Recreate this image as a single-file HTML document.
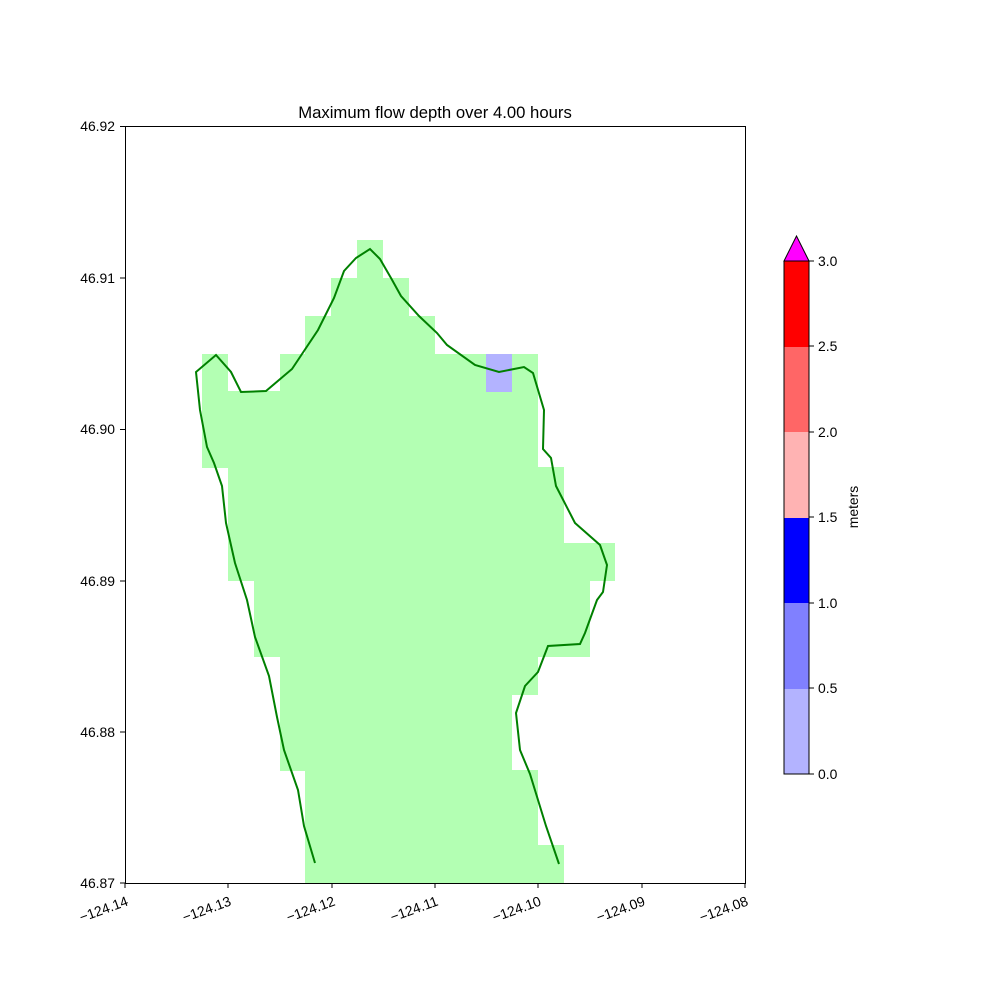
<!DOCTYPE html>
<html><head><style>body{margin:0;background:#fff}svg text{font-family:"Liberation Sans",sans-serif;font-size:13.9px;fill:#000}</style></head><body>
<svg width="1000" height="1000" viewBox="0 0 1000 1000" xmlns="http://www.w3.org/2000/svg">
<g fill="#b3ffb3" shape-rendering="crispEdges">
<rect x="357" y="240" width="26" height="39"/>
<rect x="331" y="278" width="78" height="39"/>
<rect x="305" y="316" width="130" height="39"/>
<rect x="202" y="354" width="26" height="38"/>
<rect x="280" y="354" width="258" height="38"/>
<rect x="202" y="391" width="336" height="77"/>
<rect x="228" y="467" width="336" height="77"/>
<rect x="228" y="543" width="387" height="38"/>
<rect x="254" y="581" width="336" height="76"/>
<rect x="280" y="656" width="258" height="39"/>
<rect x="280" y="694" width="232" height="77"/>
<rect x="305" y="770" width="233" height="76"/>
<rect x="305" y="845" width="259" height="38"/>
<rect x="486" y="354" width="26" height="38" fill="#b3b3ff"/>
</g>
<polyline fill="none" stroke="#008000" stroke-width="2" points="315,863 304,826 298,790 284,750 277,717 269,676 255,637 247,600 235,563 226,523 222,486 214,463 207,447 200,410 196,372 216,355 231,372 241,392 266,391 292,369 318,330 334,298 344,271 356,258 370,249 380,259 391,278 401,296 419,316 437,333 447,345 475,365 499,372 524,367 533,373 544,410 543,449 551,458 556,486 575,523 600,545 607,565 603,592 597,600 585,633 580,644 548,646 538,672 525,686 516,713 520,750 530,774 546,826 559,864"/>
<rect x="125.5" y="126.5" width="620" height="757" fill="none" stroke="#000" stroke-width="1"/>
<text x="435" y="118" text-anchor="middle" style="font-size:16.7px">Maximum flow depth over 4.00 hours</text>
<g stroke="#000">
<line x1="125" y1="883" x2="125" y2="888"/><line x1="228" y1="883" x2="228" y2="888"/><line x1="332" y1="883" x2="332" y2="888"/><line x1="435" y1="883" x2="435" y2="888"/><line x1="538" y1="883" x2="538" y2="888"/><line x1="642" y1="883" x2="642" y2="888"/><line x1="745" y1="883" x2="745" y2="888"/>
<line x1="120" y1="126.5" x2="125" y2="126.5"/><line x1="120" y1="278" x2="125" y2="278"/><line x1="120" y1="429.5" x2="125" y2="429.5"/><line x1="120" y1="581" x2="125" y2="581"/><line x1="120" y1="732" x2="125" y2="732"/><line x1="120" y1="883" x2="125" y2="883"/>
</g>
<g text-anchor="end">
<text x="115" y="131">46.92</text><text x="115" y="283">46.91</text><text x="115" y="434">46.90</text><text x="115" y="586">46.89</text><text x="115" y="737">46.88</text><text x="115" y="888">46.87</text>
</g>
<g text-anchor="end">
<text transform="translate(129,905) rotate(-20)">−124.14</text>
<text transform="translate(232,905) rotate(-20)">−124.13</text>
<text transform="translate(336,905) rotate(-20)">−124.12</text>
<text transform="translate(439,905) rotate(-20)">−124.11</text>
<text transform="translate(542,905) rotate(-20)">−124.10</text>
<text transform="translate(646,905) rotate(-20)">−124.09</text>
<text transform="translate(749,905) rotate(-20)">−124.08</text>
</g>
<g shape-rendering="crispEdges">
<rect x="784" y="688" width="25" height="86" fill="#b3b3ff"/>
<rect x="784" y="603" width="25" height="86" fill="#8080ff"/>
<rect x="784" y="517" width="25" height="86" fill="#0000ff"/>
<rect x="784" y="432" width="25" height="86" fill="#ffb3b3"/>
<rect x="784" y="346" width="25" height="86" fill="#ff6666"/>
<rect x="784" y="261" width="25" height="86" fill="#ff0000"/>
</g>
<polygon points="784,261 796.5,236 809,261" fill="#ff00ff" stroke="#000" stroke-width="1"/>
<polyline points="784,261 784,774 809,774 809,261" fill="none" stroke="#000" stroke-width="1"/>
<g stroke="#000">
<line x1="809" y1="774" x2="814" y2="774"/><line x1="809" y1="688" x2="814" y2="688"/><line x1="809" y1="603" x2="814" y2="603"/><line x1="809" y1="517" x2="814" y2="517"/><line x1="809" y1="432" x2="814" y2="432"/><line x1="809" y1="346" x2="814" y2="346"/><line x1="809" y1="261" x2="814" y2="261"/>
</g>
<text x="818" y="779">0.0</text><text x="818" y="693">0.5</text><text x="818" y="608">1.0</text><text x="818" y="522">1.5</text><text x="818" y="437">2.0</text><text x="818" y="351">2.5</text><text x="818" y="266">3.0</text>
<text transform="translate(858,507) rotate(-90)" text-anchor="middle">meters</text>
</svg>
</body></html>
